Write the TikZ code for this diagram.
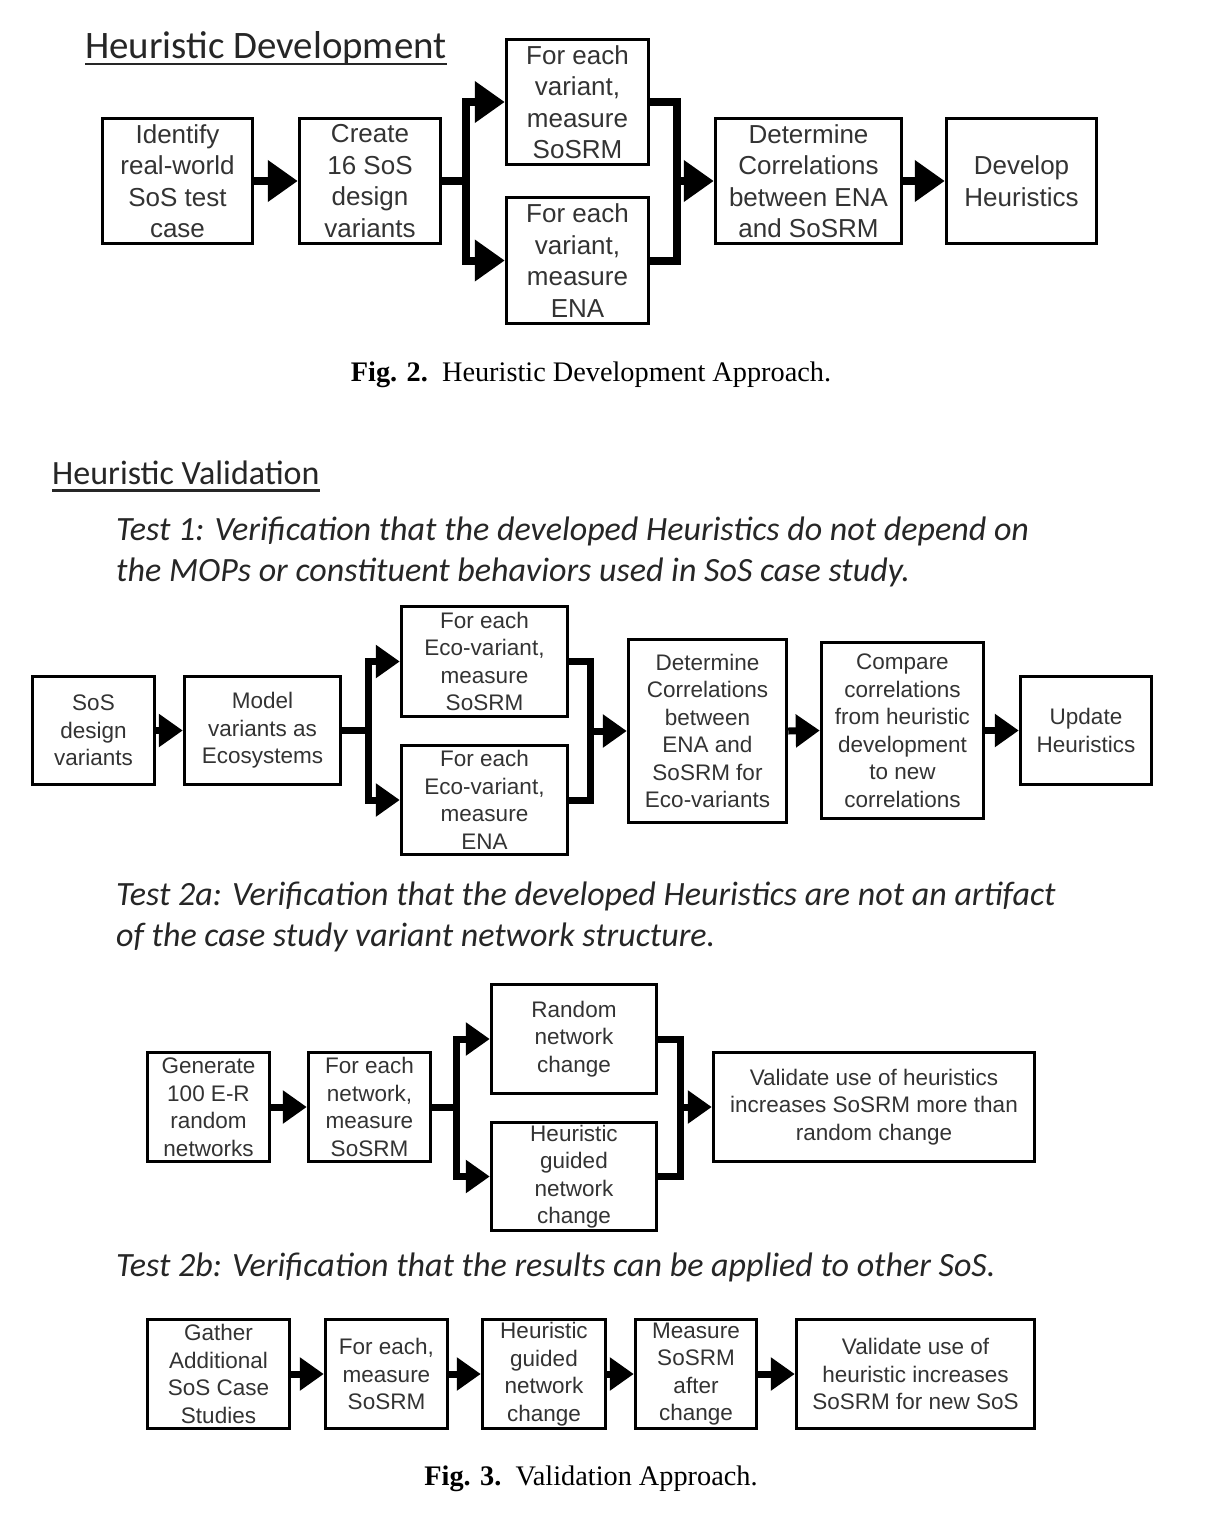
\documentclass[tikz,border=0pt]{standalone}
\usepackage{fontspec}
\setmainfont{Liberation Serif}
\newfontfamily\arialf{Liberation Sans}
\newfontfamily\calf{Carlito}
\usetikzlibrary{arrows.meta,calc}
\definecolor{txt}{rgb}{0.2,0.2,0.2}
\tikzset{
  boxA/.style={draw, line width=3.5pt, align=center, inner sep=0pt, text=txt,
    font=\arialf\fontsize{26}{31.5}\selectfont},
  boxB/.style={boxA, font=\arialf\fontsize{22.5}{27.5}\selectfont},
  bigline/.style={line width=8pt, line join=miter},
  bigarr/.style={bigline, -{Triangle[length=30pt,width=40pt]}},
  smline/.style={line width=7pt, line join=miter},
  smarr/.style={smline, -{Triangle[length=24pt,width=32pt]}},
  ttl/.style={inner sep=0pt, anchor=base west, text=black!85},
  tst/.style={inner sep=0pt, anchor=base west, text=black!85, font=\calf\itshape\fontsize{34}{40}\selectfont},
  figcap/.style={inner sep=0pt, anchor=base, font=\fontsize{28.3}{33}\selectfont},
  uline/.style={line width=2.6pt, black!85}
}
\begin{document}
\begin{tikzpicture}[x=1pt,y=-1pt]
\useasboundingbox[fill=white] (0,0) rectangle (1215,1516);

% ---------------- Fig. 2 ----------------
\node[ttl, font=\calf\fontsize{38.9}{44}\selectfont] (t1) at (85,58) {Heuristic Development};
\draw[uline] ([yshift=-6pt]t1.base west) -- ([yshift=-6pt]t1.base east);

\node[boxA, minimum width=150, minimum height=125] (A) at (177.5,181) {Identify\\real-world\\SoS test\\case};
\node[boxA, minimum width=141, minimum height=125] (B) at (370,181) {Create\\16 SoS\\design\\variants};
\node[boxA, minimum width=142, minimum height=125] (C) at (577.5,102) {For each\\variant,\\measure\\SoSRM};
\node[boxA, minimum width=142, minimum height=126] (D) at (577.5,260.5) {For each\\variant,\\measure\\ENA};
\node[boxA, minimum width=186, minimum height=125] (E) at (808.5,181) {Determine\\Correlations\\between ENA\\and SoSRM};
\node[boxA, minimum width=150, minimum height=125] (F) at (1021.5,181) {Develop\\Heuristics};

\coordinate (s1) at (466,181);
\coordinate (m1) at (677,181);
\draw[bigarr] (A.east) -- (B.west);
\draw[bigarr] (B.east) -- (s1) |- (C.west);
\draw[bigarr] (s1) |- (D.west);
\draw[bigline] (C.east) -| (m1) |- (D.east);
\draw[bigarr] (m1) -- (E.west);
\draw[bigarr] (E.east) -- (F.west);

\node[figcap] (c2) at (591,381) {\textbf{Fig. 2.}\ \ Heuristic Development Approach.};

% ---------------- Fig. 3 ----------------
\node[ttl, font=\calf\fontsize{34}{40}\selectfont] (t2) at (52,484) {Heuristic Validation};
\draw[uline] ([yshift=-6.5pt]t2.base west) -- ([yshift=-6.5pt]t2.base east);

\node[tst] (x1a) at (116,540) {Test 1: Verification that the developed Heuristics do not depend on};
\node[tst] (x1b) at (116,581) {the MOPs or constituent behaviors used in SoS case study.};

\node[boxB, minimum width=122, minimum height=108] (G) at (93.5,730.5) {SoS\\design\\variants};
\node[boxB, minimum width=156, minimum height=108] (H) at (262.5,730.5) {Model\\variants as\\Ecosystems};
\node[boxB, minimum width=166, minimum height=110] (I) at (484.5,661.5) {For each\\Eco-variant,\\measure\\SoSRM};
\node[boxB, minimum width=166, minimum height=109] (J) at (484.5,800) {For each\\Eco-variant,\\measure\\ENA};
\node[boxB, minimum width=158, minimum height=183] (K) at (707.5,731) {Determine\\Correlations\\between\\ENA and\\SoSRM for\\Eco-variants};
\node[boxB, minimum width=162, minimum height=176] (L) at (902.5,730.5) {Compare\\correlations\\from heuristic\\development\\to new\\correlations};
\node[boxB, minimum width=131, minimum height=108] (M) at (1086,730.5) {Update\\Heuristics};

\coordinate (s2) at (368,730.5);
\coordinate (m2) at (590,731);
\draw[smarr] (G.east) -- (H.west);
\draw[smarr] (H.east) -- (s2) |- (I.west);
\draw[smarr] (s2) |- (J.west);
\draw[smline] (I.east) -| (m2) |- (J.east);
\draw[smarr] (m2) -- (K.west);
\draw[smarr] (K.east) -- (L.west);
\draw[smarr] (L.east) -- (M.west);

\node[tst] (x2a) at (116,905) {Test 2a: Verification that the developed Heuristics are not an artifact};
\node[tst] (x2b) at (116,946) {of the case study variant network structure.};

\node[boxB, minimum width=122, minimum height=109] (N) at (208.5,1107) {Generate\\100 E-R\\random\\networks};
\node[boxB, minimum width=122, minimum height=109] (O) at (369.5,1107) {For each\\network,\\measure\\SoSRM};
\node[boxB, minimum width=165, minimum height=109] (P) at (574,1039) {Random\\network\\change};
\node[boxB, minimum width=165, minimum height=108] (Q) at (574,1176.5) {Heuristic\\guided\\network\\change};
\node[boxB, minimum width=321, minimum height=109] (R) at (874,1107) {Validate use of heuristics\\increases SoSRM more than\\random change};

\coordinate (s3) at (456,1107);
\coordinate (m3) at (680,1107);
\draw[smarr] (N.east) -- (O.west);
\draw[smarr] (O.east) -- (s3) |- (P.west);
\draw[smarr] (s3) |- (Q.west);
\draw[smline] (P.east) -| (m3) |- (Q.east);
\draw[smarr] (m3) -- (R.west);

\node[tst] (x3) at (116,1276) {Test 2b: Verification that the results can be applied to other SoS.};

\node[boxB, minimum width=142, minimum height=109] (S) at (218.5,1374) {Gather\\Additional\\SoS Case\\Studies};
\node[boxB, minimum width=122, minimum height=109] (T) at (386.5,1374) {For each,\\measure\\SoSRM};
\node[boxB, minimum width=123, minimum height=109] (U) at (544,1374) {Heuristic\\guided\\network\\change};
\node[boxB, minimum width=121, minimum height=109] (V) at (696,1374) {Measure\\SoSRM\\after\\change};
\node[boxB, minimum width=238, minimum height=109] (W) at (915.5,1374) {Validate use of\\heuristic increases\\SoSRM for new SoS};

\draw[smarr] (S.east) -- (T.west);
\draw[smarr] (T.east) -- (U.west);
\draw[smarr] (U.east) -- (V.west);
\draw[smarr] (V.east) -- (W.west);

\node[figcap] (c3) at (591,1485) {\textbf{Fig. 3.}\ \ Validation Approach.};
\end{tikzpicture}
\end{document}
